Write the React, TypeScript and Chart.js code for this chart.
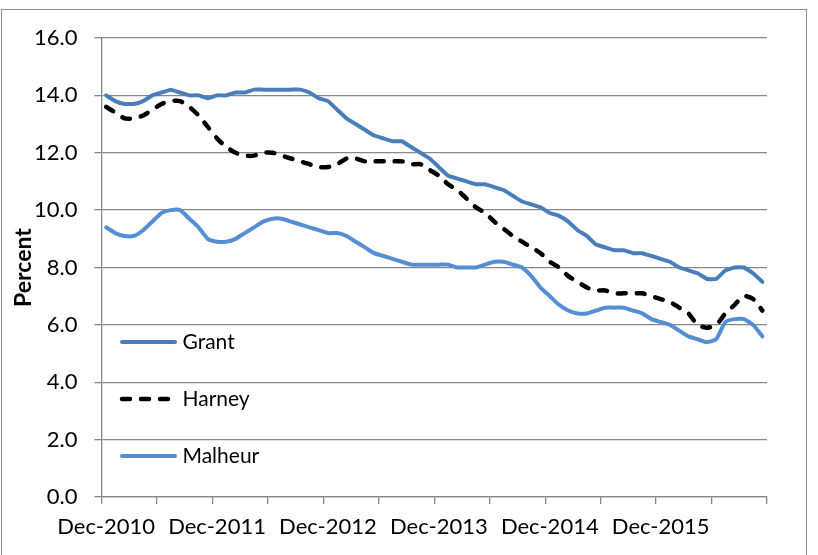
import React, { useEffect, useRef } from 'react';
import { Chart, registerables } from 'chart.js';

Chart.register(...registerables);

const categories = [
  'Dec-2010',
  'Jan-2011', 'Feb-2011', 'Mar-2011', 'Apr-2011', 'May-2011', 'Jun-2011', 'Jul-2011', 'Aug-2011', 'Sep-2011', 'Oct-2011', 'Nov-2011', 'Dec-2011',
  'Jan-2012', 'Feb-2012', 'Mar-2012', 'Apr-2012', 'May-2012', 'Jun-2012', 'Jul-2012', 'Aug-2012', 'Sep-2012', 'Oct-2012', 'Nov-2012', 'Dec-2012',
  'Jan-2013', 'Feb-2013', 'Mar-2013', 'Apr-2013', 'May-2013', 'Jun-2013', 'Jul-2013', 'Aug-2013', 'Sep-2013', 'Oct-2013', 'Nov-2013', 'Dec-2013',
  'Jan-2014', 'Feb-2014', 'Mar-2014', 'Apr-2014', 'May-2014', 'Jun-2014', 'Jul-2014', 'Aug-2014', 'Sep-2014', 'Oct-2014', 'Nov-2014', 'Dec-2014',
  'Jan-2015', 'Feb-2015', 'Mar-2015', 'Apr-2015', 'May-2015', 'Jun-2015', 'Jul-2015', 'Aug-2015', 'Sep-2015', 'Oct-2015', 'Nov-2015', 'Dec-2015',
  'Jan-2016', 'Feb-2016', 'Mar-2016', 'Apr-2016', 'May-2016', 'Jun-2016', 'Jul-2016', 'Aug-2016', 'Sep-2016', 'Oct-2016', 'Nov-2016',
];

const tickLabels = ['Dec-2010', 'Dec-2011', 'Dec-2012', 'Dec-2013', 'Dec-2014', 'Dec-2015'];

const grant = [
  14.0, 13.8, 13.7, 13.7, 13.8, 14.0, 14.1, 14.2, 14.1, 14.0, 14.0, 13.9,
  14.0, 14.0, 14.1, 14.1, 14.2, 14.2, 14.2, 14.2, 14.2, 14.2, 14.1, 13.9,
  13.8, 13.5, 13.2, 13.0, 12.8, 12.6, 12.5, 12.4, 12.4, 12.2, 12.0, 11.8,
  11.5, 11.2, 11.1, 11.0, 10.9, 10.9, 10.8, 10.7, 10.5, 10.3, 10.2, 10.1,
  9.9, 9.8, 9.6, 9.3, 9.1, 8.8, 8.7, 8.6, 8.6, 8.5, 8.5, 8.4,
  8.3, 8.2, 8.0, 7.9, 7.8, 7.6, 7.6, 7.9, 8.0, 8.0, 7.8, 7.5,
];

const harney = [
  13.6, 13.4, 13.2, 13.2, 13.3, 13.5, 13.7, 13.8, 13.8, 13.6, 13.3, 12.9,
  12.5, 12.2, 12.0, 11.9, 11.9, 12.0, 12.0, 11.9, 11.8, 11.7, 11.6, 11.5,
  11.5, 11.6, 11.8, 11.8, 11.7, 11.7, 11.7, 11.7, 11.7, 11.6, 11.6, 11.4,
  11.2, 10.9, 10.7, 10.4, 10.1, 9.9, 9.6, 9.35, 9.1, 8.9, 8.7, 8.5,
  8.2, 8.0, 7.7, 7.5, 7.3, 7.2, 7.2, 7.1, 7.1, 7.1, 7.1, 7.0,
  6.9, 6.8, 6.6, 6.4, 6.0, 5.9, 6.0, 6.4, 6.7, 7.0, 6.9, 6.5,
];

const malheur = [
  9.4, 9.2, 9.1, 9.1, 9.3, 9.6, 9.9, 10.0, 10.0, 9.7, 9.4, 9.0,
  8.9, 8.9, 9.0, 9.2, 9.4, 9.6, 9.7, 9.7, 9.6, 9.5, 9.4, 9.3,
  9.2, 9.2, 9.1, 8.9, 8.7, 8.5, 8.4, 8.3, 8.2, 8.1, 8.1, 8.1,
  8.1, 8.1, 8.0, 8.0, 8.0, 8.1, 8.2, 8.2, 8.1, 8.0, 7.7, 7.3,
  7.0, 6.7, 6.5, 6.4, 6.4, 6.5, 6.6, 6.6, 6.6, 6.5, 6.4, 6.2,
  6.1, 6.0, 5.8, 5.6, 5.5, 5.4, 5.5, 6.1, 6.2, 6.2, 6.0, 5.6,
];

const seriesNames = ['Grant', 'Harney', 'Malheur'];

const GRID = '#888888';
const FONT = 'Lato';

const insideLegend = {
  id: 'insideLegend',
  afterDatasetsDraw(chart: any) {
    const { ctx, chartArea } = chart;
    const rowTop = 304;
    const rowStep = 57;
    ctx.save();
    chart.data.datasets.forEach((ds: any, i: number) => {
      const y = chartArea.top + rowTop + i * rowStep;
      ctx.beginPath();
      ctx.setLineDash(ds.borderDash || []);
      ctx.lineCap = ds.borderCapStyle || 'butt';
      ctx.lineWidth = ds.borderWidth;
      ctx.strokeStyle = ds.borderColor;
      ctx.moveTo(chartArea.left + 20.5, y);
      ctx.lineTo(chartArea.left + 73.5, y);
      ctx.stroke();
      ctx.setLineDash([]);
      ctx.fillStyle = '#000';
      ctx.font = `21px ${FONT}`;
      ctx.textBaseline = 'middle';
      ctx.textAlign = 'left';
      ctx.fillText(ds.label, chartArea.left + 81, y);
    });
    ctx.restore();
  },
};

export default function App() {
  const canvasRef = useRef<HTMLCanvasElement | null>(null);

  useEffect(() => {
    const canvas = canvasRef.current;
    if (!canvas) return;
    const chart = new Chart(canvas, {
      type: 'line',
      data: {
        labels: categories,
        datasets: [
          {
            label: seriesNames[0],
            data: grant,
            borderColor: '#4A7EBB',
            backgroundColor: '#4A7EBB',
            borderWidth: 4,
            borderCapStyle: 'round',
            borderJoinStyle: 'round',
            tension: 0.1,
            pointRadius: 0,
            fill: false,
          },
          {
            label: seriesNames[1],
            data: harney,
            borderColor: '#000000',
            backgroundColor: '#000000',
            borderWidth: 4.5,
            borderDash: [8, 11],
            borderCapStyle: 'round',
            borderJoinStyle: 'round',
            tension: 0.25,
            pointRadius: 0,
            fill: false,
          },
          {
            label: seriesNames[2],
            data: malheur,
            borderColor: '#558ED5',
            backgroundColor: '#558ED5',
            borderWidth: 4,
            borderCapStyle: 'round',
            borderJoinStyle: 'round',
            tension: 0.2,
            pointRadius: 0,
            fill: false,
          },
        ],
      },
      options: {
        animation: false,
        responsive: false,
        devicePixelRatio: 1,
        layout: { padding: { left: 0, top: 38, right: 51, bottom: 0 } },
        plugins: {
          legend: { display: false },
          tooltip: { enabled: false },
        },
        elements: { point: { radius: 0 } },
        scales: {
          x: {
            type: 'category',
            offset: true,
            grid: {
              offset: true,
              drawOnChartArea: false,
              drawTicks: true,
              tickLength: 7,
              lineWidth: 1.3,
              color: (ctx: any) =>
                ctx.index === undefined || ctx.index % 6 === 0 ? GRID : 'rgba(0,0,0,0)',
            },
            border: { display: true, color: GRID, width: 1.3 },
            ticks: {
              autoSkip: false,
              maxRotation: 0,
              minRotation: 0,
              padding: 10,
              color: '#000',
              font: { family: FONT, size: 22 },
              callback: (_v: any, idx: number) => {
                const l = categories[idx];
                return tickLabels.includes(l) ? l : '';
              },
            },
            afterFit: (scale: any) => {
              scale.height = 58;
            },
          },
          y: {
            min: 0,
            max: 16,
            ticks: {
              stepSize: 2,
              padding: 17,
              color: '#000',
              font: { family: FONT, size: 22 },
              callback: (v: any) => Number(v).toFixed(1),
            },
            grid: { color: GRID, lineWidth: 1.3, tickLength: 7, drawTicks: true },
            border: { display: true, color: GRID, width: 1.3 },
            title: {
              display: true,
              text: 'Percent',
              color: '#000',
              font: { family: FONT, size: 23, weight: 'bold' },
              padding: { top: 10, bottom: 0 },
            },
            afterFit: (scale: any) => {
              scale.width = 101.5;
            },
          },
        },
      },
      plugins: [insideLegend],
    } as any);
    return () => chart.destroy();
  }, []);

  return (
    <div style={{ position: 'absolute', left: 0, top: 0, width: 818, height: 555, overflow: 'hidden', background: '#fff' }}>
      <div
        style={{
          position: 'absolute',
          left: 1,
          top: 9,
          width: 806,
          height: 600,
          border: '1px solid #8c8c8c',
          boxSizing: 'border-box',
        }}
      />
      <canvas
        ref={canvasRef}
        width={818}
        height={555}
        style={{ position: 'absolute', left: 0, top: 0, width: 818, height: 555 }}
      />
    </div>
  );
}
